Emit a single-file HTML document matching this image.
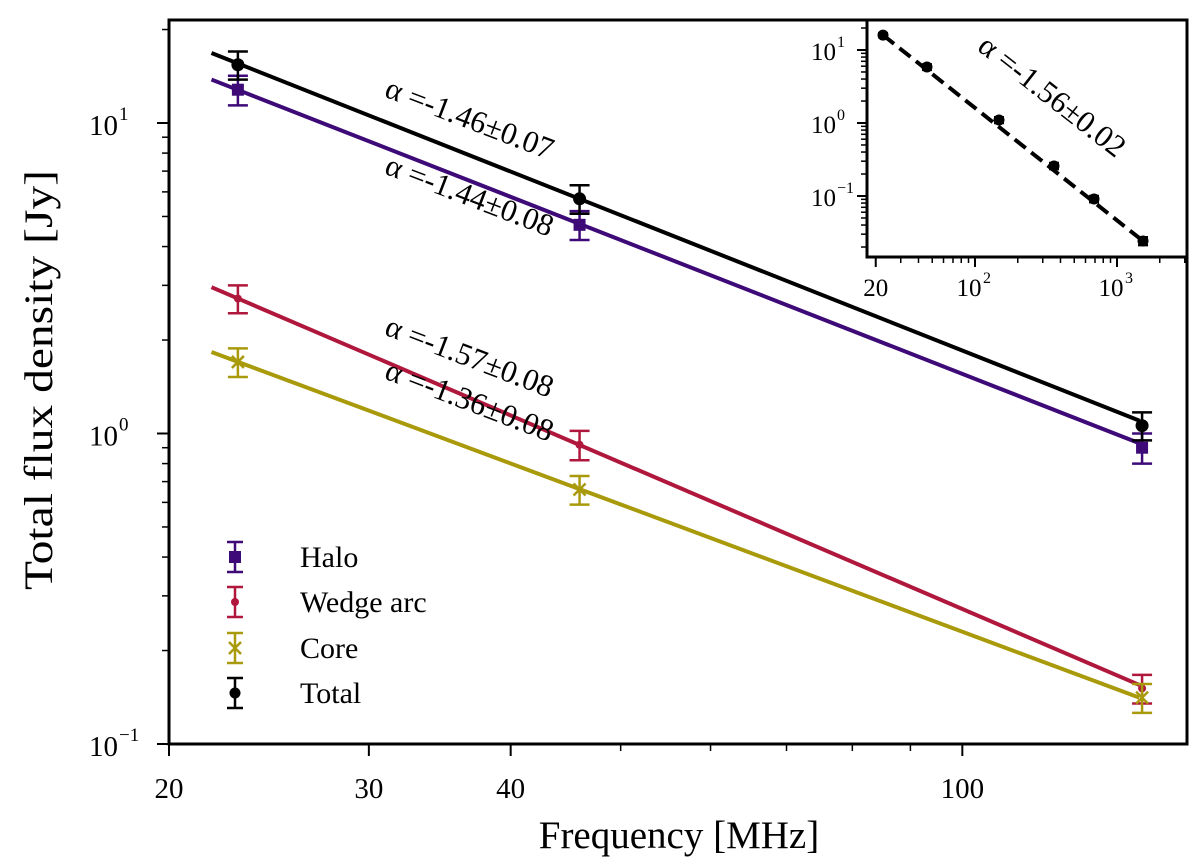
<!DOCTYPE html>
<html><head><meta charset="utf-8"><style>
html,body{margin:0;padding:0;background:#fff;}
svg{display:block;font-family:"Liberation Serif",serif;}
</style></head><body>
<svg id="chart" width="1200" height="861" viewBox="0 0 1200 861" xmlns="http://www.w3.org/2000/svg">
<g id="main"></g>
<g id="inset"></g>
</svg>
<script>
// ---- main chart data ----
const seriesNames = ["Halo", "Wedge arc", "Core", "Total"];
const seriesColors = ["#3d0a78", "#b0173c", "#a99a0b", "#000000"];
const freqs = [23, 46, 144];
const haloValues = [12.8, 4.7, 0.90];
const wedgeValues = [2.72, 0.92, 0.151];
const coreValues = [1.70, 0.66, 0.141];
const totalValues = [15.4, 5.7, 1.06];
const haloErr = [1.4, 0.5, 0.1];
const wedgeErr = [0.28, 0.1, 0.016];
const coreErr = [0.18, 0.07, 0.015];
const totalErr = [1.6, 0.6, 0.11];
const fitFreqRange = [21.8, 143.2];
const fitStartValues = [13.8, 2.96, 1.83, 16.8];
const fitEndValues = [0.93, 0.155, 0.141, 1.10];
const alphaLabels = ["α =-1.44±0.08", "α =-1.57±0.08", "α =-1.36±0.08", "α =-1.46±0.07"];
const xMajorTicks = [20, 30, 40, 100];
const xMinorTicks = [50, 60, 70, 80, 90];
const yMajorTicks = [0.1, 1, 10];
const yTickLabels = ["10", "10", "10"];
const yTickExps = ["−1", "0", "1"];
// ---- inset data ----
const insetFreqs = [22.5, 45.9, 147.6, 360, 689, 1525];
const insetValues = [16.0, 5.85, 1.10, 0.258, 0.091, 0.0242];
const insetErr = [1.0, 0.5, 0.1, 0.025, 0.009, 0.003];
const insetAlphaLabel = "α =-1.56±0.02";

const NS = "http://www.w3.org/2000/svg";
function mk(parent, tag, attrs, text) {
  const e = document.createElementNS(NS, tag);
  for (const k in attrs) e.setAttribute(k, attrs[k]);
  if (text !== undefined) e.textContent = text;
  parent.appendChild(e);
  return e;
}
const L = Math.log10;
const X0 = 169, XR = 1187, YT = 20, YB = 744;
const xs = f => 169 + 1135 * L(f / 20);
const ys = v => 433.5 - 310.5 * L(v);
const main = document.getElementById('main');

const valArrs = [haloValues, wedgeValues, coreValues, totalValues];
const errArrs = [haloErr, wedgeErr, coreErr, totalErr];
for (let i = 0; i < 4; i++) {
  const ln = mk(main, 'line', {x1: xs(fitFreqRange[0]), y1: ys(fitStartValues[i]), x2: xs(fitFreqRange[1]), y2: ys(fitEndValues[i]), stroke: seriesColors[i], 'stroke-width': 4});
  
  
}
function marker(g, kind, x, y, color, s) {
  if (kind === 0) mk(g, 'rect', {x: x - 6*s, y: y - 6*s, width: 12*s, height: 12*s, fill: color});
  else if (kind === 1) mk(g, 'circle', {cx: x, cy: y, r: 4*s, fill: color});
  else if (kind === 2) { mk(g, 'path', {d: `M${x-6*s},${y-6*s}L${x+6*s},${y+6*s}M${x-6*s},${y+6*s}L${x+6*s},${y-6*s}`, stroke: color, 'stroke-width': 2.5}); }
  else mk(g, 'circle', {cx: x, cy: y, r: 6.5*s, fill: color});
}
function errbar(g, x, y1, y2, color, cap) {
  mk(g, 'path', {d: `M${x},${y1}V${y2}M${x-cap},${y1}H${x+cap}M${x-cap},${y2}H${x+cap}`, stroke: color, 'stroke-width': 2.5, fill: 'none'});
}
for (let i = 0; i < 4; i++) {
  for (let j = 0; j < freqs.length; j++) {
    const g = mk(main, 'g', {});
    
    
    const x = xs(freqs[j]), v = valArrs[i][j], e = errArrs[i][j];
    errbar(g, x, ys(v + e), ys(v - e), seriesColors[i], 10);
    marker(g, i, x, ys(v), seriesColors[i], 1);
  }
}
const labelPos = [[466, 205], [466, 366], [466, 410], [466, 128]];
for (let i = 0; i < 4; i++) {
  const t = mk(main, 'text', {x: labelPos[i][0], y: labelPos[i][1], 'font-size': 31, 'text-anchor': 'middle', transform: `rotate(21 ${labelPos[i][0]} ${labelPos[i][1]})`}, alphaLabels[i]);
  
  
}
const fr = mk(main, 'rect', {x: X0, y: YT, width: XR - X0, height: YB - YT, fill: 'none', stroke: '#000', 'stroke-width': 3});


xMajorTicks.forEach(f => {
  mk(main, 'line', {x1: xs(f), y1: YB, x2: xs(f), y2: YB + 12, stroke: '#000', 'stroke-width': 2});
  const t = mk(main, 'text', {x: xs(f), y: YB + 54, 'font-size': 29, 'text-anchor': 'middle'}, String(f));
  
  
});
xMinorTicks.forEach(f => mk(main, 'line', {x1: xs(f), y1: YB, x2: xs(f), y2: YB + 7, stroke: '#000', 'stroke-width': 1.5}));
yMajorTicks.forEach((v, i) => {
  mk(main, 'line', {x1: X0 - 12, y1: ys(v), x2: X0, y2: ys(v), stroke: '#000', 'stroke-width': 2});
  const t = mk(main, 'text', {x: 118, y: ys(v) + 12, 'font-size': 29, 'text-anchor': 'end'}, yTickLabels[i]);
  
  
  mk(main, 'text', {x: 119, y: ys(v) - 3, 'font-size': 19, 'text-anchor': 'start'}, yTickExps[i]);
});
for (let d = -1; d <= 1; d++) for (let m = 2; m <= 9; m++) {
  const v = m * Math.pow(10, d);
  if (ys(v) < YT) continue;
  mk(main, 'line', {x1: X0 - 7, y1: ys(v), x2: X0, y2: ys(v), stroke: '#000', 'stroke-width': 1.5});
}
const xt = mk(main, 'text', {x: 679, y: 848, 'font-size': 39, 'text-anchor': 'middle'}, 'Frequency [MHz]');


const yt = mk(main, 'text', {x: 52, y: 380, 'font-size': 40, 'text-anchor': 'middle', transform: 'rotate(-90 52 380)', textLength: 420, lengthAdjust: 'spacingAndGlyphs'}, 'Total flux density [Jy]');


const legY = [557, 602, 648, 693];
for (let i = 0; i < 4; i++) {
  const g = mk(main, 'g', {});
  
  
  errbar(g, 235, legY[i] - 15, legY[i] + 15, seriesColors[i], 8);
  marker(g, i, 235, legY[i], seriesColors[i], i === 3 ? 0.85 : 1);
  mk(g, 'text', {x: 300, y: legY[i] + 10, 'font-size': 30}, seriesNames[i]);
}
// ---- inset ----
const inset = document.getElementById('inset');
const IX0 = 867, IXR = 1187, IYT = 20, IYB = 257;
const ixs = f => 975 + 142 * L(f / 100);
const iys = v => 123 - 73 * L(v);
mk(inset, 'rect', {x: IX0, y: IYT, width: IXR - IX0, height: IYB - IYT, fill: '#fff'});
const dl = mk(inset, 'line', {x1: ixs(insetFreqs[0]), y1: iys(insetValues[0]), x2: ixs(insetFreqs[insetFreqs.length-1]), y2: iys(insetValues[insetValues.length-1]), stroke: '#000', 'stroke-width': 4, 'stroke-dasharray': '14 7'});


for (let j = 0; j < insetFreqs.length; j++) {
  const g = mk(inset, 'g', {});
  
  
  const x = ixs(insetFreqs[j]), v = insetValues[j], e = insetErr[j];
  errbar(g, x, iys(v + e), iys(v - e), '#000', 5);
  mk(g, 'circle', {cx: x, cy: iys(v), r: 5.5, fill: '#000'});
}
const il = mk(inset, 'text', {x: 1046, y: 104, 'font-size': 31, 'text-anchor': 'middle', transform: 'rotate(38 1046 104)'}, insetAlphaLabel);


const ifr = mk(inset, 'rect', {x: IX0, y: IYT, width: IXR - IX0, height: IYB - IYT, fill: 'none', stroke: '#000', 'stroke-width': 3});


const insetXLabels = [[20, '20', ''], [100, '10', '2'], [1000, '10', '3']];
insetXLabels.forEach(([f, b, e]) => {
  mk(inset, 'line', {x1: ixs(f), y1: IYB, x2: ixs(f), y2: IYB + 10, stroke: '#000', 'stroke-width': 2});
  const t = mk(inset, 'text', {x: ixs(f) - (e ? 6 : 0), y: IYB + 39, 'font-size': 25, 'text-anchor': 'middle'}, b);
  
  
  if (e) mk(inset, 'text', {x: ixs(f) + 8, y: IYB + 26, 'font-size': 16}, e);
});
for (let d = 1; d <= 3; d++) for (let m = 2; m <= 9; m++) {
  const f = m * Math.pow(10, d);
  if (f < 20 || ixs(f) > IXR || (d === 1 && m === 2)) continue;
  mk(inset, 'line', {x1: ixs(f), y1: IYB, x2: ixs(f), y2: IYB + 6, stroke: '#000', 'stroke-width': 1.5});
}
[[10, '1'], [1, '0'], [0.1, '−1']].forEach(([v, e]) => {
  mk(inset, 'line', {x1: IX0 - 10, y1: iys(v), x2: IX0, y2: iys(v), stroke: '#000', 'stroke-width': 2});
  const t = mk(inset, 'text', {x: 836, y: iys(v) + 10, 'font-size': 25, 'text-anchor': 'end'}, '10');
  
  
  mk(inset, 'text', {x: 837, y: iys(v) - 3, 'font-size': 16}, e);
});
for (let d = -2; d <= 1; d++) for (let m = 2; m <= 9; m++) {
  const v = m * Math.pow(10, d);
  if (iys(v) < IYT || iys(v) > IYB) continue;
  mk(inset, 'line', {x1: IX0 - 6, y1: iys(v), x2: IX0, y2: iys(v), stroke: '#000', 'stroke-width': 1.5});
}
</script>
</body></html>
